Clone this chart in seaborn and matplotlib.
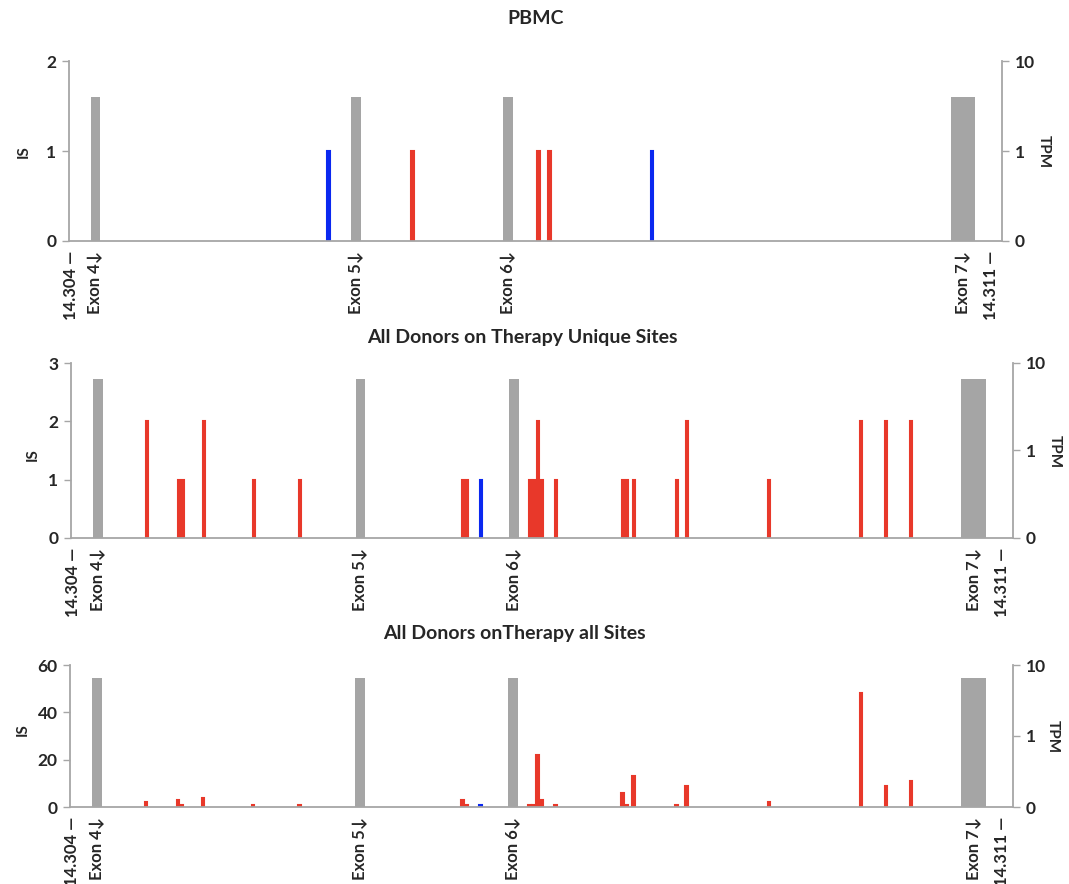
import numpy as np
import pandas as pd
import matplotlib
matplotlib.use("Agg")
import matplotlib.pyplot as plt
import seaborn as sns

# ---------------- data (x = kb offset from 14.304 Mb) ----------------
exon_names = ["Exon 4", "Exon 5", "Exon 6", "Exon 7"]
exon_pos_kb = [0.184, 2.165, 3.321, 6.788]
exon_width_kb = [0.075, 0.075, 0.075, 0.186]
pbmc_exon_tpm = [4.0, 4.0, 4.0, 4.0]
therapy_exon_tpm = [6.5, 6.5, 6.5, 6.5]

axis_start_label = "14.304 —"
axis_end_label = "14.311 —"
axis_start_kb = 0.0
axis_end_kb = 7.0

# PBMC
pbmc_red_pos = [2.597, 3.556, 3.640]
pbmc_red_is = [1, 1, 1]
pbmc_blue_pos = [1.958, 4.419]
pbmc_blue_is = [1, 1]

# On therapy sites
therapy_red_pos = [0.555, 0.796, 0.827, 0.985, 1.362, 1.709, 2.938, 2.968,
                   3.443, 3.474, 3.504, 3.534, 3.639, 4.144, 4.175, 4.228,
                   4.552, 4.627, 5.246, 5.940, 6.128, 6.317]
unique_red_is = [2, 1, 1, 2, 1, 1, 1, 1,
                 1, 1, 2, 1, 1, 1, 1, 1,
                 1, 2, 1, 2, 2, 2]
all_red_is = [2, 3, 1, 4, 1, 1, 3, 1,
              1, 1, 22, 3, 1, 6, 1, 13,
              1, 9, 2, 48, 9, 11]
therapy_blue_pos = [3.074]
unique_blue_is = [1]
all_blue_is = [1]

titles = ["PBMC", "All Donors on Therapy Unique Sites", "All Donors onTherapy all Sites"]

# ---------------- style ----------------
sns.set_theme(style="white")
FONT = ["Lato", "DejaVu Sans"]
plt.rcParams["font.family"] = FONT
plt.rcParams["font.weight"] = "bold"

RED = "#E8382A"
BLUE = "#0A28F0"
GRAY = "#A5A5A5"
AXGRAY = "#A6A6A6"
SITE_W = 0.019

W, H = 1069, 884
fig = plt.figure(figsize=(W / 100, H / 100), dpi=100)


def rect(l, t, r, b):
    return [l / W, 1 - b / H, (r - l) / W, (b - t) / H]


def draw_bars(ax, xs, ys, color, abs_width, edge=0.0):
    xs = np.asarray(xs, dtype=float)
    ux = np.unique(xs)
    gap = np.min(np.diff(ux)) if len(ux) > 1 else 1.0
    df = pd.DataFrame({"pos": xs, "val": ys})
    sns.barplot(data=df, x="pos", y="val", native_scale=True, orient="x",
                width=abs_width / gap, color=color, saturation=1,
                errorbar=None, linewidth=edge, edgecolor=color, ax=ax)


panels = [
    dict(box=(69, 61, 1002, 241), ylim=(0, 2), yticks=[0, 1, 2],
         red=(pbmc_red_pos, pbmc_red_is), blue=(pbmc_blue_pos, pbmc_blue_is),
         tpm=pbmc_exon_tpm, title_xy=(536, 18), is_xy=(24, 152), tpm_xy=(1044, 152)),
    dict(box=(71, 363, 1013, 538), ylim=(0, 3), yticks=[0, 1, 2, 3],
         red=(therapy_red_pos, unique_red_is), blue=(therapy_blue_pos, unique_blue_is),
         tpm=therapy_exon_tpm, title_xy=(522, 337), is_xy=(33, 455), tpm_xy=(1055, 452)),
    dict(box=(70, 665, 1013, 807), ylim=(0, 60), yticks=[0, 20, 40, 60],
         red=(therapy_red_pos, all_red_is), blue=(therapy_blue_pos, all_blue_is),
         tpm=therapy_exon_tpm, title_xy=(514, 633), is_xy=(23, 730), tpm_xy=(1053, 737)),
]

xt_pos = [axis_start_kb] + exon_pos_kb + [axis_end_kb]
xt_lab = [axis_start_label] + [n + "↓" for n in exon_names] + [axis_end_label]

for i, p in enumerate(panels):
    ax = fig.add_axes(rect(*p["box"]))
    ax2 = ax.twinx()

    # exon bars on TPM axis
    draw_bars(ax2, exon_pos_kb[:3], p["tpm"][:3], GRAY, exon_width_kb[0])
    draw_bars(ax2, exon_pos_kb[3:], p["tpm"][3:], GRAY, exon_width_kb[3])
    ax2.set_yscale("symlog", linthresh=1, linscale=0.9)
    ax2.set_ylim(0, 10)
    ax2.set_yticks([0, 1, 10])
    ax2.set_yticklabels(["0", "1", "10"])
    ax2.yaxis.set_minor_locator(matplotlib.ticker.NullLocator())

    # site bars on IS axis
    draw_bars(ax, p["red"][0], p["red"][1], RED, SITE_W, edge=1.5)
    draw_bars(ax, p["blue"][0], p["blue"][1], BLUE, SITE_W, edge=1.5)
    ax.set_ylim(*p["ylim"])
    ax.set_yticks(p["yticks"])
    ax.set_yticklabels([str(v) for v in p["yticks"]])

    xlim = (-0.018, 7.085)
    ax.set_xlim(*xlim)
    ax2.set_xlim(*xlim)
    ax.set_xticks(xt_pos)
    ax.set_xticklabels(xt_lab, rotation=90, fontsize=12, fontweight="bold", family=FONT)
    ax.set_xlabel("")
    ax.set_ylabel("")
    ax2.set_xlabel("")
    ax2.set_ylabel("")

    for s in ["top", "right"]:
        ax.spines[s].set_visible(False)
    for s in ["top", "left", "bottom"]:
        ax2.spines[s].set_visible(False)
    for s in ["left", "bottom"]:
        ax.spines[s].set_color(AXGRAY)
        ax.spines[s].set_linewidth(1.3)
    ax2.spines["right"].set_color(AXGRAY)
    ax2.spines["right"].set_linewidth(1.3)

    ax.tick_params(axis="y", left=True, direction="out", length=5, width=1,
                   color=AXGRAY, labelsize=12.5, pad=4)
    ax.tick_params(axis="x", bottom=False, length=0, pad=7)
    ax2.tick_params(axis="y", right=True, direction="out", length=5, width=1,
                    color=AXGRAY, labelsize=12.5, pad=4)
    for lab in ax.get_yticklabels() + ax2.get_yticklabels():
        lab.set_fontweight("bold")
    ax.grid(False)
    ax2.grid(False)

    tx, ty = p["title_xy"]
    fig.text(tx / W, 1 - ty / H, titles[i], ha="center", va="center",
             fontsize=14, fontweight="bold", family=FONT)
    ix, iy = p["is_xy"]
    fig.text(ix / W, 1 - iy / H, "IS", rotation=90, ha="center", va="center",
             fontsize=11, fontweight="bold", family=FONT)
    qx, qy = p["tpm_xy"]
    fig.text(qx / W, 1 - qy / H, "TPM", rotation=-90, ha="center", va="center",
             fontsize=11, fontweight="bold", family=FONT)

fig.savefig("out.png", dpi=100, facecolor="white")
